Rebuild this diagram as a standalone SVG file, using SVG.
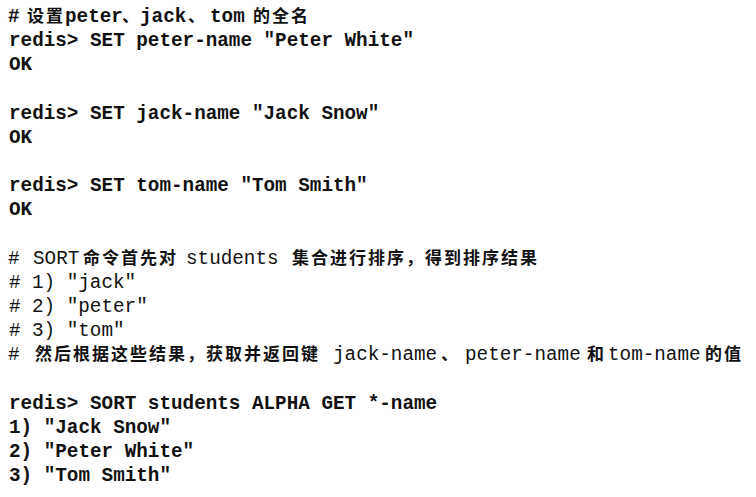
<svg xmlns="http://www.w3.org/2000/svg" width="756" height="497" viewBox="0 0 756 497">
<style>
.m{font-family:"Liberation Mono","Courier New",monospace;font-size:19.3px;font-weight:bold;fill:#111;}
.r{font-weight:normal;}
.c{font-family:"Noto Sans CJK SC","Noto Sans",sans-serif;font-size:17px;font-weight:bold;letter-spacing:2px;fill:#111;}
.p{letter-spacing:0;}
</style>
<rect x="0" y="0" width="756" height="497" fill="#fff"/>
<g id="listing">
<text class="m" y="22"><tspan x="8">#</tspan><tspan class="c" x="27">设置</tspan><tspan x="65">peter</tspan><tspan class="c p" x="122">、</tspan><tspan x="140">jack</tspan><tspan class="c p" x="188">、</tspan><tspan x="210">tom</tspan><tspan class="c" x="253">的全名</tspan></text>
<text class="m" x="9" y="46">redis&gt; SET peter-name "Peter White"</text>
<text class="m" x="9" y="70">OK</text>
<text class="m" x="9" y="119">redis&gt; SET jack-name "Jack Snow"</text>
<text class="m" x="9" y="143">OK</text>
<text class="m" x="9" y="191">redis&gt; SET tom-name "Tom Smith"</text>
<text class="m" x="9" y="215">OK</text>
<text class="m r" y="264"><tspan x="8">#</tspan><tspan x="33">SORT</tspan><tspan class="c" x="83">命令首先对</tspan><tspan x="186">students</tspan><tspan class="c" x="292">集合进行排序，得到排序结果</tspan></text>
<text class="m r" x="9" y="288">#<tspan x="32">1) "jack"</tspan></text>
<text class="m r" x="9" y="312">#<tspan x="32">2) "peter"</tspan></text>
<text class="m r" x="9" y="336">#<tspan x="32">3) "tom"</tspan></text>
<text class="m r" y="360"><tspan x="8">#</tspan><tspan class="c" x="35">然后根据这些结果，获取并返回键</tspan><tspan x="333">jack-name</tspan><tspan class="c p" x="441">、</tspan><tspan x="465">peter-name</tspan><tspan class="c p" x="587">和</tspan><tspan x="608">tom-name</tspan><tspan class="c" x="705">的值</tspan></text>
<text class="m" x="9" y="409">redis&gt; SORT students ALPHA GET *-name</text>
<text class="m" x="9" y="433">1) "Jack Snow"</text>
<text class="m" x="9" y="457">2) "Peter White"</text>
<text class="m" x="9" y="481">3) "Tom Smith"</text>
</g>
</svg>
